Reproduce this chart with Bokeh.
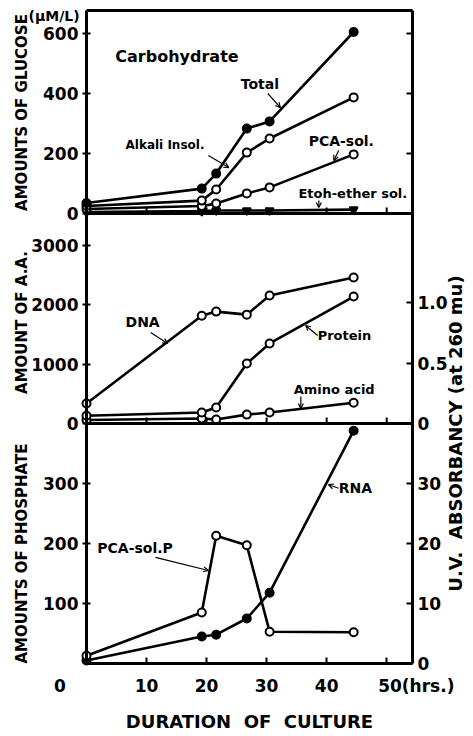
import math
from bokeh.plotting import figure
from bokeh.models import Range1d, LinearAxis, FixedTicker, Label, Arrow, OpenHead
from bokeh.embed import file_html
from bokeh.resources import INLINE

# ---------------- data ----------------
hours = [0, 19.2, 21.6, 26.7, 30.5, 44.5]

# Carbohydrate (amounts of glucose, uM/L)
glc_total = [35, 83, 133, 283, 307, 605]
glc_alkali = [25, 43, 80, 203, 250, 387]
glc_pca = [15, 25, 33, 67, 87, 197]
glc_etoh = [5, 8, 10, 10, 10, 13]

# Middle panel
dna_abs = [0.165, 0.89, 0.925, 0.90, 1.058, 1.207]       # U.V. absorbancy
protein_aa = [130, 185, 270, 1010, 1350, 2140]           # amount of A.A.
amino_aa = [60, 85, 67, 150, 185, 350]

# Bottom panel
pca_p = [13, 85, 213, 197, 53, 52]                        # amounts of phosphate
rna_uv = [0.5, 4.5, 4.8, 7.5, 11.8, 38.8]                 # U.V. absorbancy

x_ticks = [0, 10, 20, 30, 40, 50]
glc_ticks = [0, 200, 400, 600]
aa_ticks = [0, 1000, 2000, 3000]
phos_ticks = [100, 200, 300]
abs_ticks = [0, 0.5, 1.0]
abs_tick_labels = ["0", "0.5", "1.0"]
rna_ticks = [0, 10, 20, 30]

# ---------------- layout ----------------
FONT = "DejaVu Sans"
CANVAS_W, CANVAS_H = 473, 736
PLOT_L, PLOT_W = 86, 326          # plot box left / width (canvas px)
PLOT_B = 663                      # plot box bottom (canvas px)
X_MAX = 54.3                      # hours at right edge of plot box
KX = PLOT_W / X_MAX               # px per hour
BOX_H = 653
PANELS = {"top": (450, 203), "mid": (240, 210), "bot": (0, 240)}  # bottom, height (px above box bottom)
SCALES = {"glc": ("top", 676.7), "aa": ("mid", 3540.0), "abs": ("mid", 1.736),
          "phos": ("bot", 400.0), "rna": ("bot", 40.0)}
Y_LO, Y_HI = PLOT_B - CANVAS_H, PLOT_B   # primary range in px above box bottom


def ext_range(name):
    panel, vmax = SCALES[name]
    b, h = PANELS[panel]
    k = vmax / h
    return Range1d((Y_LO - b) * k, (Y_HI - b) * k)


def pos(name, v):
    panel, vmax = SCALES[name]
    b, h = PANELS[panel]
    return b + v * h / vmax


p = figure(x_range=Range1d(-PLOT_L / KX, (CANVAS_W - PLOT_L) / KX),
           y_range=Range1d(Y_LO, Y_HI),
           frame_width=CANVAS_W, frame_height=CANVAS_H,
           x_axis_type=None, y_axis_type=None,
           output_backend="svg", toolbar_location=None, min_border=0,
           background_fill_color="white", border_fill_color="white")
p.outline_line_color = None
p.extra_y_ranges = {n: ext_range(n) for n in SCALES}

NB = "\u00a0"
AXW = 3


def style_axis(ax, size="17px"):
    ax.axis_line_width = AXW
    ax.axis_line_color = "black"
    ax.major_tick_line_width = 2
    ax.major_tick_line_color = "black"
    ax.minor_tick_line_color = None
    ax.major_label_text_font = FONT
    ax.major_label_text_font_style = "bold"
    ax.major_label_text_font_size = size
    ax.major_label_text_color = "black"


# bottom x axis
xaxis = LinearAxis(ticker=FixedTicker(ticks=x_ticks), fixed_location=0, bounds=(0, X_MAX),
                   major_label_overrides={0: "0" + NB * 9, 50: NB * 10 + "50(hrs.)"},
                   axis_label="DURATION" + NB * 2 + "OF" + NB * 2 + "CULTURE")
style_axis(xaxis)
xaxis.major_tick_in = 6
xaxis.major_tick_out = 0
xaxis.major_label_standoff = 12
xaxis.axis_label_standoff = 12
xaxis.axis_label_text_font = FONT
xaxis.axis_label_text_font_style = "bold"
xaxis.axis_label_text_font_size = "18px"
xaxis.axis_label_text_color = "black"
p.add_layout(xaxis, "below")

# top border and panel separators (lines only)
for loc, side in ((BOX_H, "above"), (PANELS["top"][0], "below"), (PANELS["mid"][0], "below")):
    ln = LinearAxis(ticker=FixedTicker(ticks=[]), fixed_location=loc, bounds=(0, X_MAX))
    style_axis(ln)
    p.add_layout(ln, side)

# inward ticks on separators
TICK = 6
sep_x, sep_y0, sep_y1 = [], [], []
for loc in (PANELS["top"][0], PANELS["mid"][0]):
    for t in x_ticks[1:]:
        sep_x.append(t)
        sep_y0.append(loc)
        sep_y1.append(loc + TICK)
p.segment(x0=sep_x, y0=sep_y0, x1=sep_x, y1=sep_y1, line_width=2, line_color="black")

# left axis (all three panels)
left_pos, left_lab = [], {}
for name, ticks in (("glc", glc_ticks), ("aa", aa_ticks), ("phos", phos_ticks)):
    for t in ticks:
        y = pos(name, t)
        left_pos.append(y)
        left_lab[y] = str(t)
yl = LinearAxis(ticker=FixedTicker(ticks=left_pos), major_label_overrides=left_lab,
                fixed_location=0, bounds=(0, BOX_H))
style_axis(yl)
yl.major_tick_in = 4
yl.major_tick_out = 4
yl.major_label_standoff = 4
p.add_layout(yl, "left")

# right axis (labelled ticks of the two lower panels)
right_pos, right_lab = [], {}
for t, s in zip(abs_ticks, abs_tick_labels):
    y = pos("abs", t)
    right_pos.append(y)
    right_lab[y] = s
for t in rna_ticks:
    y = pos("rna", t)
    right_pos.append(y)
    right_lab[y] = str(t)
yr = LinearAxis(ticker=FixedTicker(ticks=right_pos), major_label_overrides=right_lab,
                fixed_location=X_MAX, bounds=(0, BOX_H))
style_axis(yr)
yr.major_tick_in = 6
yr.major_tick_out = 0
yr.major_label_standoff = 5
p.add_layout(yr, "right")

# unlabelled inward ticks on the right of the top panel
rt_y = [pos("glc", t) for t in glc_ticks[1:]]
p.segment(x0=[X_MAX] * len(rt_y), y0=rt_y, x1=[X_MAX - TICK / KX] * len(rt_y), y1=rt_y,
          line_width=2, line_color="black")

# ---------------- series ----------------
LW = 2.6


def series(ys, rng, marker="circle", fill="white", size=8):
    p.line(hours, ys, y_range_name=rng, line_width=LW, line_color="black")
    p.scatter(hours, ys, y_range_name=rng, marker=marker, size=size,
              fill_color=fill, line_color="black", line_width=2)


series(glc_etoh, "glc", marker="inverted_triangle", fill="black", size=8)
series(glc_pca, "glc")
series(glc_alkali, "glc")
series(glc_total, "glc", fill="black")
series(amino_aa, "aa")
series(protein_aa, "aa")
series(dna_abs, "abs")
series(rna_uv, "rna", fill="black")
series(pca_p, "phos")


# ---------------- annotations ----------------
def lab(x, y, text, rng=None, size="14px", **kw):
    opts = dict(x=x, y=y, text=text, text_font=FONT, text_font_style="bold",
                text_font_size=size, text_baseline="middle", text_align="left",
                text_color="black")
    opts.update(kw)
    if rng:
        opts["y_range_name"] = rng
    p.add_layout(Label(**opts))


def arrow(x0, y0, x1, y1, rng):
    p.add_layout(Arrow(x_start=x0, y_start=y0, x_end=x1, y_end=y1, y_range_name=rng,
                       line_width=1.2, line_color="black",
                       end=OpenHead(size=5, line_width=1.2, line_color="black")))


lab(4.8, 523, "Carbohydrate", "glc", size="16px")
lab(25.7, 433, "Total", "glc", size="14px")
arrow(30.2, 400, 32.3, 353, "glc")
lab(6.5, 227, "Alkali Insol.", "glc", size="12px")
arrow(20.3, 193, 23.7, 153, "glc")
lab(37.0, 243, "PCA-sol.", "glc", size="14px")
arrow(42.0, 210, 41.2, 177, "glc")
lab(35.3, 67, "Etoh-ether sol.", "glc", size="13px")
arrow(38.7, 43, 38.7, 20, "glc")

lab(6.5, 1703, "DNA", "aa", size="14px")
arrow(10.7, 1534, 13.5, 1349, "aa")
lab(38.5, 1483, "Protein", "aa", size="13px")
arrow(38.5, 1483, 36.5, 1652, "aa")
lab(34.5, 573, "Amino acid", "aa", size="13px")
arrow(35.7, 455, 35.7, 253, "aa")

lab(1.8, 193, "PCA-sol.P", "phos", size="14px")
arrow(11.5, 177, 20.3, 155, "phos")
lab(42.0, 29.2, "RNA", "rna", size="14px")
arrow(42.0, 29.2, 40.3, 29.8, "rna")


# axis titles (x in hours, y in px above plot box bottom)
def hx(px):
    return (px - PLOT_L) / KX


def vy(py):
    return PLOT_B - py


lab(hx(21), vy(112), "AMOUNTS OF GLUCOSE", size="15px", angle=math.pi / 2, text_align="center")
lab(hx(28), vy(15), "(\u03bcM/L)", size="14px")
lab(hx(21), vy(322), "AMOUNT OF A.A.", size="15px", angle=math.pi / 2, text_align="center")
lab(hx(21), vy(553), "AMOUNTS OF PHOSPHATE", size="15px", angle=math.pi / 2, text_align="center")
lab(hx(455), vy(433), "U.V." + NB * 2 + "ABSORBANCY (at 260 mu)", size="18px",
    angle=math.pi / 2, text_align="center")

open("out.html", "w").write(file_html(p, INLINE))
